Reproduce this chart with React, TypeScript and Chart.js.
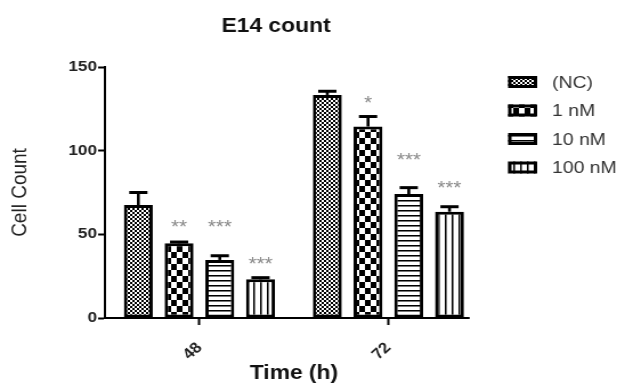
import React, { useEffect, useRef } from 'react';
import { Chart, registerables } from 'chart.js';

Chart.register(...registerables);

// ---- data ----
const categories = ['48', '72'];
const seriesLabels = ['(NC)', '1 nM', '10 nM', '100 nM'];
const ncValues = [67.5, 133.3];
const ncErrors = [7.5, 2.2];
const nM1Values = [44.6, 114.4];
const nM1Errors = [0.8, 6.0];
const nM10Values = [34.7, 74.1];
const nM10Errors = [2.5, 3.8];
const nM100Values = [23.1, 63.5];
const nM100Errors = [1.0, 3.0];
const ncSig = ['', ''];
const nM1Sig = ['**', '*'];
const nM10Sig = ['***', '***'];
const nM100Sig = ['***', '***'];
const ncSigPos = [0, 0];
const nM1SigPos = [56.8, 131.3];
const nM10SigPos = [56.8, 96.8];
const nM100SigPos = [34.7, 80.5];
const yTicks = [0, 50, 100, 150];
const chartTitle = 'E14 count';
const xTitle = 'Time (h)';
const yTitle = 'Cell Count';

const FONT = '"Liberation Sans", Arial, Helvetica, sans-serif';
const CW = 548;
const CH = 383;

function makePattern(kind: string): CanvasPattern | string {
  const c = document.createElement('canvas');
  const ctx = c.getContext('2d');
  if (!ctx) return '#000';
  if (kind === 'fine') {
    c.width = 4; c.height = 4;
    ctx.fillStyle = '#fff'; ctx.fillRect(0, 0, 4, 4);
    ctx.fillStyle = '#000';
    ctx.fillRect(0, 0, 2, 2); ctx.fillRect(2, 2, 2, 2);
  } else if (kind === 'coarse') {
    c.width = 10; c.height = 12;
    ctx.fillStyle = '#fff'; ctx.fillRect(0, 0, 10, 12);
    ctx.fillStyle = '#000';
    ctx.fillRect(0, 0, 5, 6); ctx.fillRect(5, 6, 5, 6);
  } else if (kind === 'hlines') {
    c.width = 4; c.height = 5;
    ctx.fillStyle = '#fff'; ctx.fillRect(0, 0, 4, 5);
    ctx.fillStyle = '#000'; ctx.fillRect(0, 0, 4, 1);
    ctx.fillStyle = '#777'; ctx.fillRect(0, 1, 4, 1);
  } else {
    c.width = 6; c.height = 4;
    ctx.fillStyle = '#fff'; ctx.fillRect(0, 0, 6, 4);
    ctx.fillStyle = '#000'; ctx.fillRect(0, 0, 1, 4);
    ctx.fillStyle = '#777'; ctx.fillRect(1, 0, 1, 4);
  }
  const p = ctx.createPattern(c, 'repeat');
  return p || '#000';
}

export default function App() {
  const ref = useRef<HTMLCanvasElement | null>(null);

  useEffect(() => {
    if (!ref.current) return;
    const patterns = [makePattern('fine'), makePattern('coarse'), makePattern('hlines'), makePattern('vlines')];
    const values = [ncValues, nM1Values, nM10Values, nM100Values];
    const errors = [ncErrors, nM1Errors, nM10Errors, nM100Errors];
    const sigs = [ncSig, nM1Sig, nM10Sig, nM100Sig];
    const sigPos = [ncSigPos, nM1SigPos, nM10SigPos, nM100SigPos];

    const overlay = {
      id: 'overlay',
      afterDatasetsDraw(chart: any) {
        const ctx = chart.ctx as CanvasRenderingContext2D;
        const ys = chart.scales.y;
        ctx.save();
        let lastRight = chart.chartArea.left;
        chart.data.datasets.forEach((ds: any, i: number) => {
          const meta = chart.getDatasetMeta(i);
          meta.data.forEach((bar: any, j: number) => {
            const v = values[i][j];
            const e = errors[i][j];
            const yTop = ys.getPixelForValue(v + e);
            ctx.strokeStyle = '#000';
            ctx.lineWidth = 2.6;
            ctx.beginPath();
            ctx.moveTo(bar.x, bar.y);
            ctx.lineTo(bar.x, yTop);
            ctx.stroke();
            ctx.lineWidth = 3;
            ctx.beginPath();
            ctx.moveTo(bar.x - 8, yTop);
            ctx.lineTo(bar.x + 8, yTop);
            ctx.stroke();
            const s = sigs[i][j];
            if (s) {
              const fs = 18;
              ctx.font = `${fs}px ${FONT}`;
              ctx.fillStyle = '#888';
              ctx.textAlign = 'center';
              ctx.textBaseline = 'alphabetic';
              ctx.fillText(s, bar.x, ys.getPixelForValue(sigPos[i][j]) + 0.58 * fs);
            }
            lastRight = Math.max(lastRight, bar.x + bar.width / 2);
          });
        });
        // x axis line
        ctx.strokeStyle = '#000';
        ctx.lineWidth = 2;
        ctx.beginPath();
        ctx.moveTo(chart.chartArea.left - 1, chart.chartArea.bottom);
        ctx.lineTo(lastRight + 5, chart.chartArea.bottom);
        ctx.stroke();
        ctx.restore();
      },
      afterDraw(chart: any) {
        const ctx = chart.ctx as CanvasRenderingContext2D;
        ctx.save();
        // title
        ctx.font = `bold 20px ${FONT}`;
        ctx.fillStyle = '#111';
        ctx.textAlign = 'center';
        ctx.textBaseline = 'middle';
        ctx.fillText(chartTitle, 242, 26);
        // legend
        const bx = 445.5, bw = 25.5, bh = 12, tx = 484;
        seriesLabels.forEach((lab, i) => {
          const cy = 82 + i * 28.5;
          ctx.fillStyle = patterns[i] as any;
          ctx.fillRect(bx, cy - bh / 2, bw, bh);
          ctx.strokeStyle = '#000';
          ctx.lineWidth = 3;
          ctx.strokeRect(bx + 1.5, cy - bh / 2 + 1.5, bw - 3, bh - 3);
          ctx.font = `17px ${FONT}`;
          ctx.fillStyle = '#333';
          ctx.textAlign = 'left';
          ctx.textBaseline = 'middle';
          ctx.fillText(lab, tx, cy + 1);
        });
        ctx.restore();
      },
    };

    const chart = new Chart(ref.current, {
      type: 'bar',
      data: {
        labels: categories,
        datasets: seriesLabels.map((lab, i) => ({
          label: lab,
          data: values[i],
          backgroundColor: patterns[i] as any,
          borderColor: '#000',
          borderWidth: 3,
          borderSkipped: false,
          categoryPercentage: 0.862,
          barPercentage: 0.71,
        })),
      },
      options: {
        responsive: false,
        animation: false,
        devicePixelRatio: 1,
        layout: { padding: { top: 67, right: 124.6, bottom: 0, left: 0 } },
        plugins: {
          legend: { display: false },
          title: { display: false },
          tooltip: { enabled: false },
        },
        scales: {
          x: {
            type: 'category',
            offset: true,
            border: { display: false },
            grid: {
              offset: false,
              drawOnChartArea: false,
              drawTicks: true,
              tickLength: 7,
              tickWidth: 2,
              color: '#000',
            },
            ticks: {
              minRotation: 45,
              maxRotation: 45,
              padding: 14,
              color: '#222',
              font: { family: FONT, size: 15, weight: 'bold' },
            },
            title: {
              display: true,
              text: xTitle,
              color: '#111',
              font: { family: FONT, size: 20, weight: 'bold', lineHeight: 1 },
              padding: { top: 0, bottom: 0 },
            },
            afterFit: (scale: any) => { scale.height = 65; },
          },
          y: {
            min: 0,
            max: 150,
            border: { display: true, color: '#000', width: 2 },
            grid: {
              drawOnChartArea: false,
              drawTicks: true,
              tickLength: 6,
              tickWidth: 2,
              color: '#000',
            },
            afterBuildTicks: (scale: any) => { scale.ticks = yTicks.map((v) => ({ value: v })); },
            ticks: {
              padding: 1,
              color: '#222',
              font: { family: FONT, size: 15, weight: 'bold' },
            },
            title: {
              display: true,
              text: yTitle,
              color: '#222',
              font: { family: FONT, size: 19, weight: 'normal', lineHeight: 1 },
              padding: { top: 8, bottom: 0 },
            },
            afterFit: (scale: any) => { scale.width = 92; },
          },
        },
      } as any,
      plugins: [overlay],
    });
    return () => chart.destroy();
  }, []);

  return (
    <div style={{ position: 'fixed', left: 0, top: 0, width: 625, height: CH, background: '#fff' }}>
      <canvas
        ref={ref}
        width={CW}
        height={CH}
        style={{ width: '625px', height: `${CH}px`, display: 'block' }}
      />
    </div>
  );
}
